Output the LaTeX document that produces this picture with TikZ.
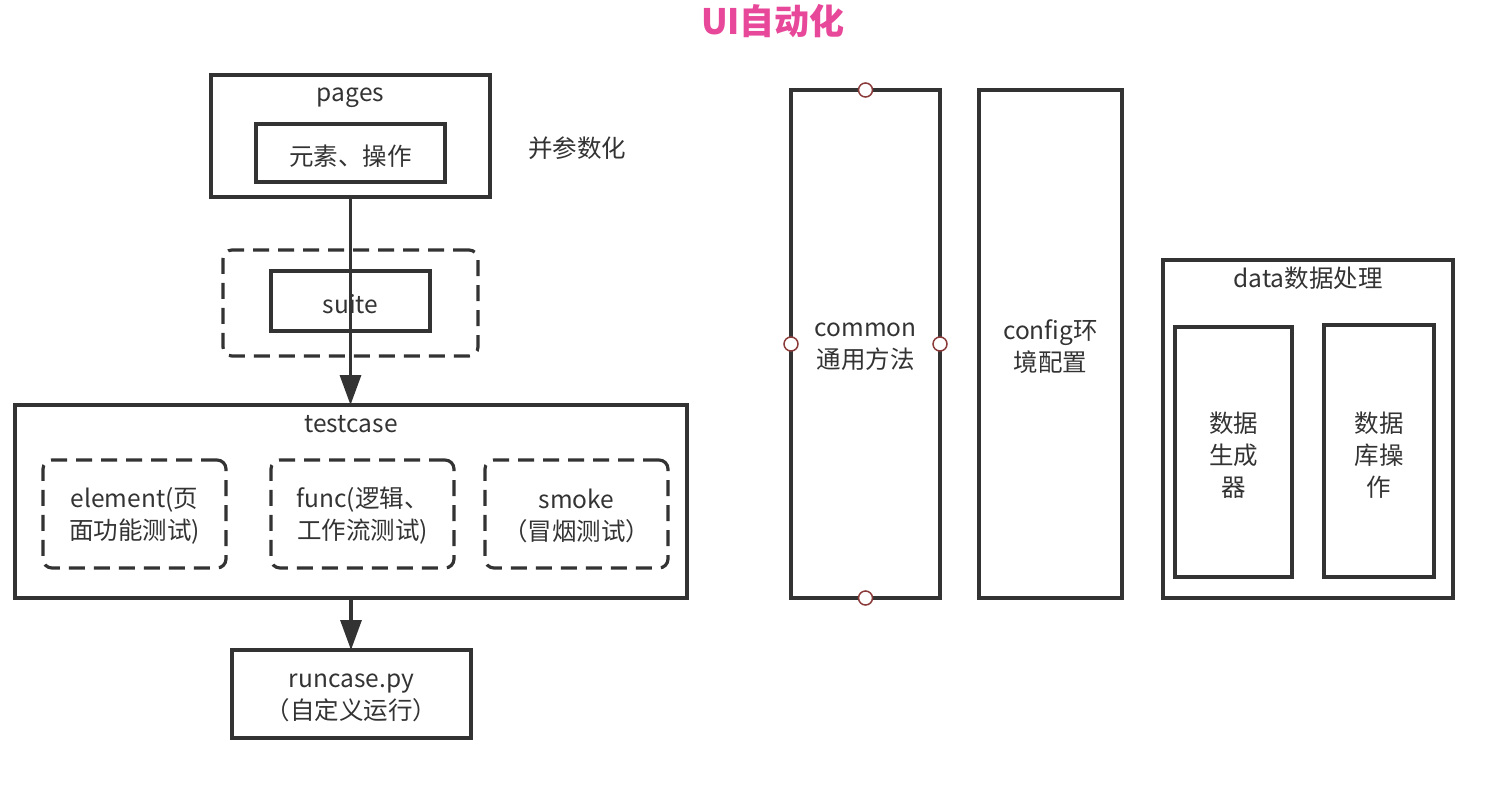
\documentclass[tikz,border=0pt]{standalone}
\usepackage{fontspec}
\setmainfont{Noto Sans CJK SC}
\usetikzlibrary{arrows.meta}
\definecolor{ln}{HTML}{333333}
\definecolor{txt}{HTML}{333333}
\definecolor{pinkt}{HTML}{E8489A}
\definecolor{dotc}{HTML}{8B3A3A}
\tikzset{
  box/.style={draw=ln, line width=3.2pt, inner sep=0pt, outer sep=0pt},
  dbox/.style={draw=ln, line width=3.2pt, dash pattern=on 16pt off 9pt, rounded corners=9pt, inner sep=0pt, outer sep=0pt},
  lbl/.style={text=txt, font=\fontsize{24.5}{32}\selectfont, align=center, inner sep=0pt},
  arr/.style={draw=ln, line width=3.2pt, -{Triangle[length=30pt,width=21pt]}},
  port/.style={circle, draw=dotc, fill=white, line width=1.5pt, minimum size=14pt, inner sep=0pt}
}
\begin{document}
\begin{tikzpicture}[x=1pt,y=-1pt]
\useasboundingbox (0,0) rectangle (1496,790);
% title
\node[text=pinkt, font=\fontsize{35}{40}\selectfont\bfseries] (title) at (773,21) {UI自动化};
% pages
\node[box, minimum width=279pt, minimum height=122pt] (pages) at (350.5,136) {};
\node[lbl] (pagest) at (350.5,98) {pages};
\node[box, minimum width=189pt, minimum height=58pt] (elem) at (350.5,153) {};
\node[lbl] (elemt) at (350.5,156) {元素、操作};
\node[lbl] (param) at (577,148) {并参数化};
% suite
\node[dbox, minimum width=255pt, minimum height=106pt] (suitegrp) at (350.5,303) {};
\node[box, minimum width=159pt, minimum height=60pt] (suite) at (350.5,301) {};
\node[lbl] (suitet) at (350.5,304) {suite};
% testcase
\node[box, minimum width=672pt, minimum height=193pt] (testcase) at (351,501.5) {};
\node[lbl] (testcaset) at (351,424) {testcase};
\node[dbox, minimum width=183pt, minimum height=108pt] (element) at (134.5,514) {};
\node[lbl] (elementt) at (134.5,516) {element(页\\面功能测试)};
\node[dbox, minimum width=183pt, minimum height=108pt] (func) at (362.5,514) {};
\node[lbl] (funct) at (362.5,516) {func(逻辑、\\工作流测试)};
\node[dbox, minimum width=183pt, minimum height=108pt] (smoke) at (576.5,514) {};
\node[lbl] (smoket) at (576.5,516) {smoke\\（冒烟测试）};
% runcase
\node[box, minimum width=239pt, minimum height=88pt] (runcase) at (351.5,694) {};
\node[lbl] (runcaset) at (351.5,698) {runcase.py\\（自定义运行）};
% arrows
\draw[arr] (pages.south) -- (pages.south |- testcase.north);
\draw[arr] (testcase.south) -- (testcase.south |- runcase.north);
% common
\node[box, minimum width=149pt, minimum height=508pt] (common) at (865.5,344) {};
\node[lbl] (commont) at (865.5,347) {common\\通用方法};
\node[port] (p1) at (common.north) {};
\node[port] (p2) at (common.west) {};
\node[port] (p3) at (common.east) {};
\node[port] (p4) at (common.south) {};
% config
\node[box, minimum width=143pt, minimum height=508pt] (config) at (1050.5,344) {};
\node[lbl] (configt) at (1050.5,347) {config环\\境配置};
% data
\node[box, minimum width=290pt, minimum height=338pt] (data) at (1308,429) {};
\node[lbl] (datat) at (1308,278) {data数据处理};
\node[box, minimum width=117pt, minimum height=250pt] (gen) at (1233.5,452) {};
\node[lbl] (gent) at (1233.5,455) {数据\\生成\\器};
\node[box, minimum width=110pt, minimum height=252pt] (db) at (1379,451) {};
\node[lbl] (dbt) at (1379,455) {数据\\库操\\作};
\end{tikzpicture}
\end{document}
